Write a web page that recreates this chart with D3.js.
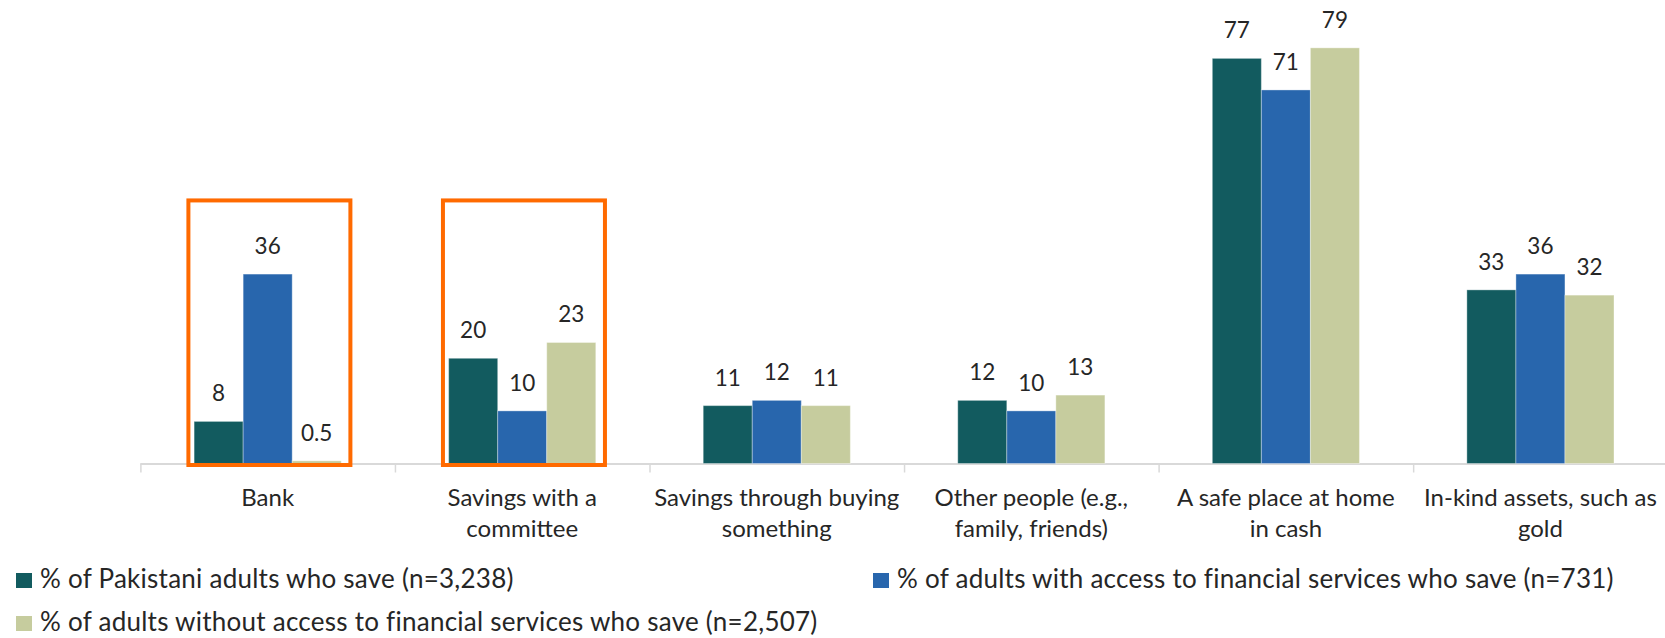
<!DOCTYPE html>
<html>
<head>
<meta charset="utf-8">
<script src="https://cdn.jsdelivr.net/npm/d3@7"></script>
<style>
  body { margin: 0; background: #fff; }
  svg text { font-family: Lato, "Open Sans", sans-serif; fill: #262626; }
</style>
</head>
<body>
<div id="chart"></div>
<script>
// categories (tick labels split in lines as in the original)
const categories = ["Bank", "Savings with a committee", "Savings through buying something",
    "Other people (e.g., family, friends)", "A safe place at home in cash", "In-kind assets, such as gold"];
const categoryLines = [
    ["Bank"],
    ["Savings with a", "committee"],
    ["Savings through buying", "something"],
    ["Other people (e.g.,", "family, friends)"],
    ["A safe place at home", "in cash"],
    ["In-kind assets, such as", "gold"]
];

// series
const seriesNames = [
    "% of Pakistani adults who save (n=3,238)",
    "% of adults with access to financial services who save (n=731)",
    "% of adults without access to financial services who save (n=2,507)"
];
const allAdults = [8, 20, 11, 12, 77, 33];
const withAccess = [36, 10, 12, 10, 71, 36];
const withoutAccess = [0.5, 23, 11, 13, 79, 32];
const valueLabels = [
    ["8", "20", "11", "12", "77", "33"],
    ["36", "10", "12", "10", "71", "36"],
    ["0.5", "23", "11", "13", "79", "32"]
];
const highlighted = ["Bank", "Savings with a committee"];

const colors = ["#125B5F", "#2866AD", "#C6CC9E"];

const width = 1665, height = 638;
const svg = d3.select("#chart").append("svg")
    .attr("width", width)
    .attr("height", height);

const seriesValues = [allAdults, withAccess, withoutAccess];

const x0 = d3.scaleBand()
    .domain(categories)
    .range([140.4, 1667.7])
    .padding(0);

const bw = x0.bandwidth();
const x1 = d3.scaleBand()
    .domain(d3.range(3))
    .range([bw * 0.211, bw * 0.789]);

const y = d3.scaleLinear()
    .domain([0, 88])
    .range([463.5, 0.5]);

// axis line + ticks between categories
svg.append("line")
    .attr("x1", x0.range()[0]).attr("x2", width)
    .attr("y1", y(0) + 0.5).attr("y2", y(0) + 0.5)
    .attr("stroke", "#D9D9D9").attr("stroke-width", 2);

svg.selectAll(".tick")
    .data(categories)
    .enter().append("line")
    .attr("x1", d => x0(d) + 0.5).attr("x2", d => x0(d) + 0.5)
    .attr("y1", y(0)).attr("y2", y(0) + 9)
    .attr("stroke", "#D9D9D9").attr("stroke-width", 1.5);

// bars
let groups = svg.selectAll(".grp")
    .data(categories)
    .enter().append("g")
    .attr("transform", d => "translate(" + x0(d) + ",0)");

groups.selectAll("rect")
    .data((c, i) => seriesValues.map((s, k) => ({k: k, v: s[i], label: valueLabels[k][i]})))
    .enter().append("rect")
    .attr("x", d => x1(d.k))
    .attr("width", x1.bandwidth())
    .attr("y", d => y(d.v))
    .attr("height", d => y(0) - y(d.v))
    .attr("fill", d => colors[d.k])
    .attr("stroke", "#ffffff")
    .attr("stroke-opacity", 0.35)
    .attr("stroke-width", 1);

// value labels
groups.selectAll("text.val")
    .data((c, i) => seriesValues.map((s, k) => ({k: k, v: s[i], label: valueLabels[k][i]})))
    .enter().append("text")
    .attr("class", "val")
    .attr("x", d => x1(d.k) + x1.bandwidth() / 2)
    .attr("y", d => y(d.v) - 20)
    .attr("text-anchor", "middle")
    .style("font-size", "22.5px")
    .text(d => d.label);

// orange highlight boxes
svg.selectAll(".hl")
    .data(highlighted)
    .enter().append("rect")
    .attr("x", d => x0(d) + 48)
    .attr("y", y(50))
    .attr("width", 162)
    .attr("height", y(0) + 1.5 - y(50))
    .attr("fill", "none")
    .attr("stroke", "#FF6A00")
    .attr("stroke-width", 4);

// category labels
categories.forEach((c, i) => {
    let t = svg.append("text")
        .attr("text-anchor", "middle")
        .attr("x", x0(c) + bw / 2)
        .attr("y", 506)
        .style("font-size", "24px");
    categoryLines[i].forEach((line, j) => {
        t.append("tspan")
            .attr("x", x0(c) + bw / 2)
            .attr("y", 506 + j * 31)
            .text(line);
    });
});

// legend
const legendPos = [[16, 573], [873, 573], [16, 616]];
let leg = svg.selectAll(".leg")
    .data(seriesNames)
    .enter().append("g")
    .attr("transform", (d, i) => "translate(" + legendPos[i][0] + "," + legendPos[i][1] + ")");

leg.append("rect")
    .attr("width", 16).attr("height", 15)
    .attr("fill", (d, i) => colors[i]);

leg.append("text")
    .attr("x", 24)
    .attr("y", 14.7)
    .style("font-size", "26px")
    .style("letter-spacing", "0.25px")
    .text(d => d);
</script>
</body>
</html>
